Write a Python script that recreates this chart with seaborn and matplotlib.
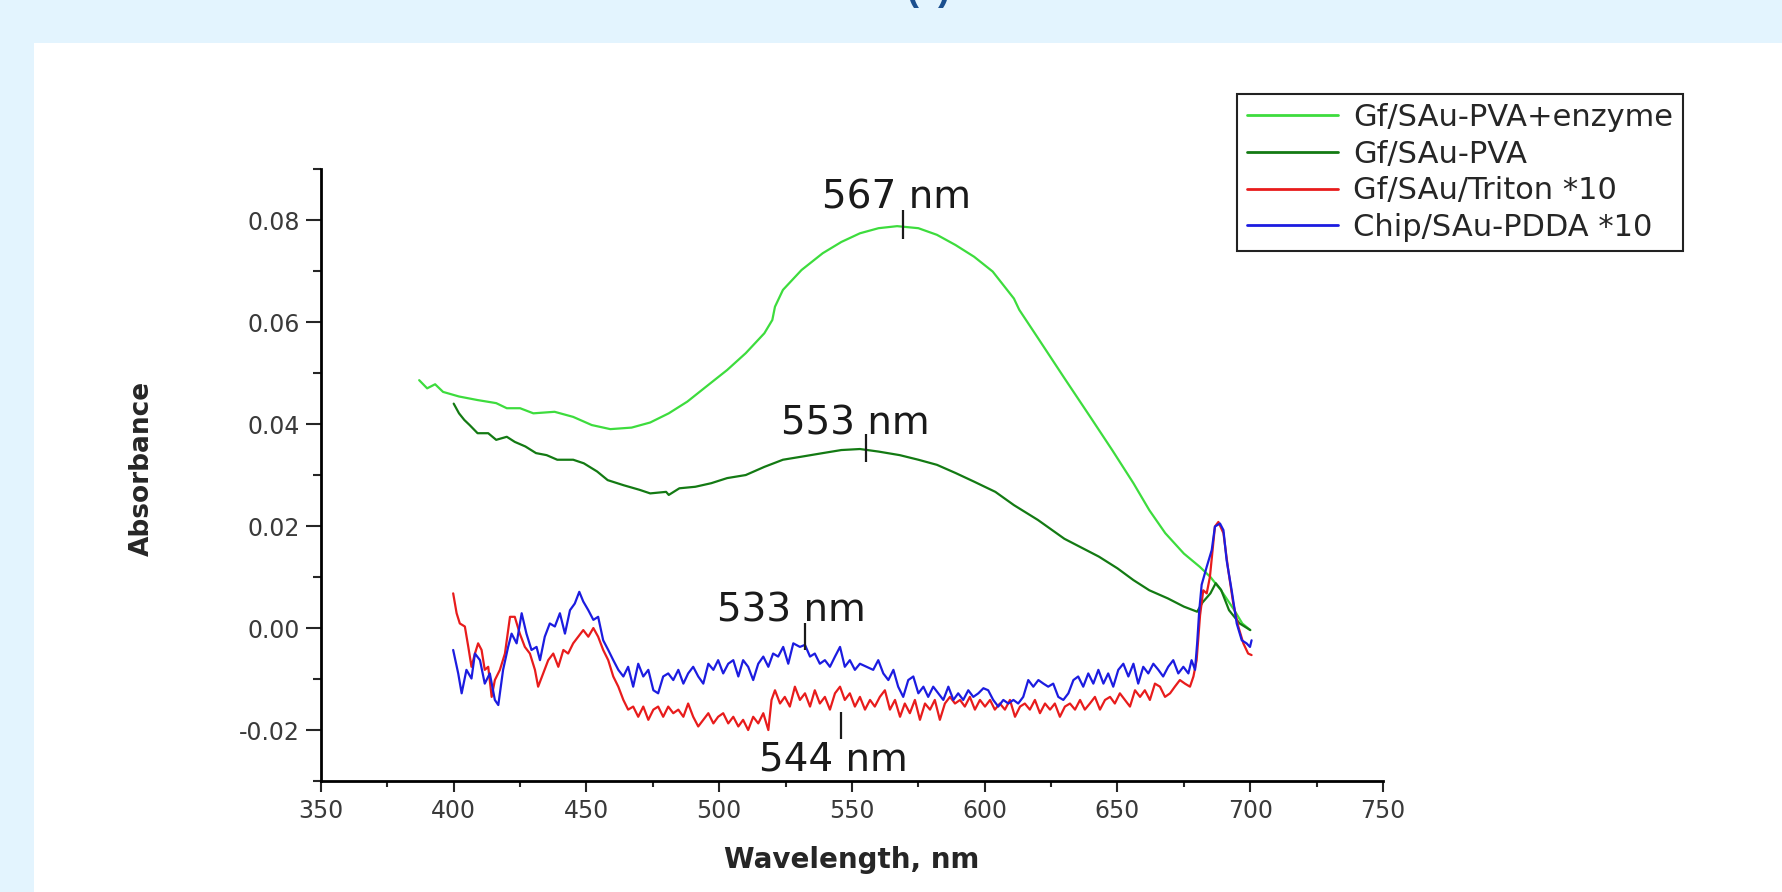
import matplotlib
matplotlib.use("Agg")
import matplotlib.pyplot as plt
import seaborn as sns
import pandas as pd
from matplotlib.ticker import MultipleLocator, FormatStrFormatter
from matplotlib.patches import Rectangle

# UV-vis spectra (wavelength in nm, absorbance)
enzyme_wl = [387, 390, 393, 396, 402, 409, 416, 420, 425, 430,
             438, 445, 452, 459, 467, 474, 481, 488, 495, 503,
             510, 517, 520, 521, 524, 531, 539, 546, 553, 560,
             567, 575, 582, 589, 596, 603, 611, 613, 620, 630,
             640, 648, 656, 662, 668, 675, 681, 685, 689, 694,
             697, 700]
enzyme_abs = [0.0486, 0.0470, 0.0478, 0.0463, 0.0454, 0.0447, 0.0441, 0.0431, 0.0431, 0.0421,
              0.0424, 0.0414, 0.0398, 0.0390, 0.0393, 0.0403, 0.0421, 0.0444, 0.0473, 0.0506,
              0.0539, 0.0578, 0.0604, 0.0630, 0.0663, 0.0702, 0.0735, 0.0757, 0.0774, 0.0784,
              0.0788, 0.0784, 0.0771, 0.0751, 0.0728, 0.0699, 0.0646, 0.0624, 0.0569, 0.0490,
              0.0412, 0.0349, 0.0284, 0.0231, 0.0186, 0.0146, 0.0120, 0.0100, 0.0074, 0.0035,
              0.0009, -0.0004]

pva_wl = [400, 402, 404, 406, 409, 413, 416, 420, 423, 427,
          431, 435, 439, 445, 449, 454, 458, 464, 470, 474,
          480, 481, 485, 491, 497, 503, 510, 517, 524, 531,
          539, 546, 553, 560, 568, 575, 582, 589, 596, 604,
          611, 620, 630, 643, 650, 656, 662, 669, 675, 680,
          682, 685, 687, 689, 692, 696, 700]
pva_abs = [0.0440, 0.0421, 0.0408, 0.0398, 0.0382, 0.0382, 0.0369, 0.0375, 0.0365, 0.0356,
           0.0343, 0.0339, 0.0330, 0.0330, 0.0323, 0.0307, 0.0290, 0.0280, 0.0271, 0.0264,
           0.0267, 0.0261, 0.0274, 0.0277, 0.0284, 0.0294, 0.0300, 0.0316, 0.0330, 0.0336,
           0.0343, 0.0349, 0.0351, 0.0346, 0.0339, 0.0330, 0.0320, 0.0304, 0.0287, 0.0267,
           0.0241, 0.0212, 0.0175, 0.0140, 0.0117, 0.0094, 0.0074, 0.0058, 0.0042, 0.0032,
           0.0050, 0.0068, 0.0088, 0.0075, 0.0035, 0.0009, -0.0004]

triton_wl = [399.8, 401.1, 402.3, 404.2, 405.5, 406.7, 408.0, 409.2, 410.5, 411.7,
             413.0, 414.3, 415.5, 417.4, 419.3, 421.2, 423.0, 424.9, 426.8, 428.7,
             430.6, 431.8, 433.7, 435.6, 437.5, 439.4, 441.3, 443.1, 445.0, 446.9,
             448.8, 450.7, 452.6, 454.4, 456.3, 458.2, 460.1, 462.0, 463.9, 465.7,
             467.6, 469.5, 471.4, 473.3, 475.2, 477.0, 478.9, 480.8, 482.7, 484.6,
             486.5, 488.3, 490.2, 492.1, 494.0, 495.9, 497.8, 499.6, 501.5, 503.4,
             505.3, 507.2, 509.0, 510.9, 512.8, 514.7, 516.6, 518.5, 519.7, 521.0,
             522.9, 524.7, 526.6, 528.5, 530.4, 532.3, 534.2, 536.0, 537.9, 539.8,
             541.7, 543.6, 545.5, 547.3, 549.2, 551.1, 553.0, 554.9, 556.8, 558.6,
             560.5, 562.4, 564.3, 566.2, 568.1, 569.9, 571.8, 573.7, 575.6, 577.5,
             579.4, 581.2, 583.1, 585.0, 586.9, 588.8, 590.7, 592.5, 594.4, 596.3,
             598.2, 600.1, 602.0, 603.8, 605.7, 607.6, 609.5, 611.4, 613.3, 615.1,
             617.0, 618.9, 620.8, 622.7, 624.6, 626.4, 628.3, 630.2, 632.1, 634.0,
             635.9, 637.7, 639.6, 641.5, 643.4, 645.3, 647.2, 649.0, 650.9, 652.8,
             654.7, 656.6, 658.5, 660.3, 662.2, 664.1, 666.0, 667.9, 669.8, 671.6,
             673.5, 675.4, 677.3, 678.6, 679.8, 681.1, 682.3, 683.6, 684.8, 686.7,
             688.0, 689.9, 691.7, 693.6, 695.5, 697.4, 699.2, 700.5]
triton_abs = [0.0068, 0.0029, 0.0009, 0.0003, -0.0037, -0.0076, -0.0050, -0.0030, -0.0043, -0.0082,
              -0.0076, -0.0135, -0.0102, -0.0082, -0.0050, 0.0022, 0.0022, -0.0011, -0.0037, -0.0050,
              -0.0082, -0.0115, -0.0089, -0.0063, -0.0050, -0.0076, -0.0043, -0.0050, -0.0030, -0.0017,
              -0.0004, -0.0017, 0.0000, -0.0017, -0.0043, -0.0063, -0.0095, -0.0115, -0.0141, -0.0160,
              -0.0154, -0.0174, -0.0154, -0.0180, -0.0160, -0.0154, -0.0174, -0.0154, -0.0167, -0.0160,
              -0.0174, -0.0148, -0.0174, -0.0193, -0.0180, -0.0167, -0.0187, -0.0174, -0.0167, -0.0187,
              -0.0174, -0.0193, -0.0180, -0.0200, -0.0174, -0.0187, -0.0167, -0.0200, -0.0141, -0.0122,
              -0.0148, -0.0135, -0.0154, -0.0115, -0.0141, -0.0128, -0.0154, -0.0122, -0.0148, -0.0135,
              -0.0160, -0.0128, -0.0115, -0.0141, -0.0128, -0.0154, -0.0135, -0.0160, -0.0141, -0.0154,
              -0.0135, -0.0122, -0.0160, -0.0141, -0.0174, -0.0148, -0.0167, -0.0141, -0.0180, -0.0148,
              -0.0160, -0.0141, -0.0180, -0.0148, -0.0135, -0.0148, -0.0141, -0.0154, -0.0135, -0.0160,
              -0.0141, -0.0154, -0.0141, -0.0160, -0.0148, -0.0160, -0.0141, -0.0174, -0.0154, -0.0148,
              -0.0160, -0.0141, -0.0167, -0.0148, -0.0160, -0.0148, -0.0174, -0.0154, -0.0148, -0.0160,
              -0.0141, -0.0160, -0.0148, -0.0135, -0.0160, -0.0141, -0.0135, -0.0148, -0.0128, -0.0141,
              -0.0154, -0.0122, -0.0135, -0.0122, -0.0141, -0.0109, -0.0115, -0.0135, -0.0128, -0.0115,
              -0.0102, -0.0109, -0.0115, -0.0095, -0.0063, 0.0025, 0.0074, 0.0068, 0.0100, 0.0199,
              0.0208, 0.0186, 0.0114, 0.0048, 0.0003, -0.0030, -0.0050, -0.0053]

pdda_wl = [399.8, 401.7, 403.0, 404.8, 406.7, 408.0, 409.9, 411.7, 413.6, 415.5,
           416.8, 418.6, 420.5, 421.8, 423.7, 425.6, 427.4, 429.3, 431.2, 432.5,
           434.3, 436.2, 438.1, 440.0, 441.9, 443.8, 445.6, 447.3, 448.8, 450.7,
           452.6, 454.4, 456.3, 458.2, 460.1, 462.0, 463.9, 465.7, 467.6, 469.5,
           471.4, 473.3, 475.2, 477.0, 478.9, 480.8, 482.7, 484.6, 486.5, 488.3,
           490.2, 492.1, 494.0, 495.9, 497.8, 499.6, 501.5, 503.4, 505.3, 507.2,
           509.0, 510.9, 512.8, 514.7, 516.6, 518.5, 520.3, 522.2, 524.1, 526.0,
           527.9, 530.4, 532.3, 534.2, 536.0, 537.9, 539.8, 541.7, 543.6, 545.5,
           547.3, 549.2, 551.1, 553.0, 555.5, 558.0, 559.9, 561.8, 563.7, 565.6,
           567.4, 569.3, 571.2, 573.1, 575.0, 576.9, 578.7, 580.6, 582.5, 584.4,
           586.3, 588.2, 590.0, 591.9, 593.8, 595.7, 597.6, 599.5, 601.3, 603.2,
           605.1, 607.0, 608.9, 610.8, 612.6, 614.5, 616.4, 618.3, 620.2, 622.1,
           623.9, 625.8, 627.7, 629.6, 631.5, 633.4, 635.2, 637.1, 639.0, 640.9,
           642.8, 644.7, 646.5, 648.4, 650.3, 652.2, 654.1, 656.0, 657.8, 659.7,
           661.6, 663.5, 665.4, 667.2, 669.1, 671.0, 672.9, 674.8, 676.7, 677.9,
           679.2, 680.0, 680.8, 681.7, 683.6, 685.5, 686.7, 688.6, 689.9, 691.1,
           693.0, 694.9, 696.8, 698.6, 699.9, 700.5]
pdda_abs = [-0.0043, -0.0089, -0.0128, -0.0082, -0.0099, -0.0050, -0.0063, -0.0109, -0.0089, -0.0141,
            -0.0151, -0.0082, -0.0037, -0.0011, -0.0030, 0.0029, -0.0011, -0.0043, -0.0037, -0.0063,
            -0.0017, 0.0009, 0.0003, 0.0029, -0.0011, 0.0035, 0.0048, 0.0071, 0.0052, 0.0035,
            0.0016, 0.0022, -0.0024, -0.0043, -0.0063, -0.0082, -0.0095, -0.0076, -0.0115, -0.0070,
            -0.0095, -0.0082, -0.0122, -0.0128, -0.0095, -0.0089, -0.0102, -0.0082, -0.0109, -0.0089,
            -0.0076, -0.0095, -0.0109, -0.0070, -0.0082, -0.0063, -0.0089, -0.0070, -0.0063, -0.0095,
            -0.0063, -0.0076, -0.0102, -0.0070, -0.0056, -0.0076, -0.0050, -0.0056, -0.0037, -0.0070,
            -0.0030, -0.0037, -0.0033, -0.0056, -0.0050, -0.0070, -0.0063, -0.0076, -0.0056, -0.0037,
            -0.0076, -0.0063, -0.0082, -0.0070, -0.0076, -0.0082, -0.0063, -0.0089, -0.0102, -0.0082,
            -0.0115, -0.0135, -0.0102, -0.0095, -0.0128, -0.0115, -0.0135, -0.0115, -0.0128, -0.0141,
            -0.0115, -0.0141, -0.0128, -0.0141, -0.0122, -0.0135, -0.0128, -0.0118, -0.0122, -0.0141,
            -0.0154, -0.0141, -0.0148, -0.0141, -0.0148, -0.0135, -0.0102, -0.0115, -0.0102, -0.0109,
            -0.0115, -0.0109, -0.0135, -0.0141, -0.0128, -0.0102, -0.0095, -0.0115, -0.0089, -0.0109,
            -0.0082, -0.0109, -0.0089, -0.0115, -0.0082, -0.0070, -0.0095, -0.0070, -0.0109, -0.0076,
            -0.0089, -0.0070, -0.0082, -0.0095, -0.0076, -0.0063, -0.0089, -0.0076, -0.0089, -0.0063,
            -0.0082, -0.0030, 0.0035, 0.0085, 0.0120, 0.0153, 0.0199, 0.0205, 0.0192, 0.0133,
            0.0074, 0.0009, -0.0024, -0.0030, -0.0037, -0.0024]

series_names = ["Gf/SAu-PVA+enzyme", "Gf/SAu-PVA", "Gf/SAu/Triton *10", "Chip/SAu-PDDA *10"]
series_colors = ["#3ddc3d", "#137a13", "#e81c1c", "#1c1ce0"]

# peak markers written on the plot
peak_text = ["567 nm", "553 nm", "533 nm", "544 nm"]
peak_text_x = [566.9, 551.4, 527.3, 543.1]
peak_text_y = [0.0822, 0.0380, 0.0012, -0.0279]
peak_mark_x = [569.4, 555.3, 532.3, 546.0]
peak_mark_lo = [0.0763, 0.0325, -0.0043, -0.0218]
peak_mark_hi = [0.0820, 0.0380, 0.0009, -0.0164]

frames = []
for name, wl, ab in zip(series_names,
                        [enzyme_wl, pva_wl, triton_wl, pdda_wl],
                        [enzyme_abs, pva_abs, triton_abs, pdda_abs]):
    frames.append(pd.DataFrame({"wavelength": wl, "absorbance": ab, "sample": name}))
spectra = pd.concat(frames, ignore_index=True)

sns.set_style("ticks")
plt.rcParams["font.family"] = ["DejaVu Sans"]
plt.rcParams["axes.unicode_minus"] = False

fig = plt.figure(figsize=(17.82, 8.92), dpi=100)
fig.patch.set_facecolor("#e3f4fe")
fig.add_artist(Rectangle((34 / 1782, 0), 1 - 34 / 1782, 1 - 43 / 892,
                         transform=fig.transFigure, facecolor="white",
                         edgecolor="none", zorder=-1))
fig.text(0.521, 1.0, "(a)", fontsize=26, fontweight="bold", color="#1b4f8f",
         family="Liberation Sans", ha="center", va="baseline")

ax = fig.add_axes([0.1801, 0.1244, 0.5960, 0.6861])
ax.set_facecolor("white")

sns.lineplot(data=spectra, x="wavelength", y="absorbance", hue="sample",
             hue_order=series_names, palette=dict(zip(series_names, series_colors)),
             estimator=None, sort=False, linewidth=1.6, ax=ax)

for t, tx, ty in zip(peak_text, peak_text_x, peak_text_y):
    ax.text(tx, ty, t, fontsize=28, color="#1a1a1a", ha="center", va="baseline")
ax.vlines(peak_mark_x, peak_mark_lo, peak_mark_hi, color="#1a1a1a", linewidth=1.6)

ax.set_xlim(350, 750)
ax.set_ylim(-0.03, 0.09)
ax.xaxis.set_major_locator(MultipleLocator(50))
ax.xaxis.set_minor_locator(MultipleLocator(25))
ax.yaxis.set_major_locator(MultipleLocator(0.02))
ax.yaxis.set_minor_locator(MultipleLocator(0.01))
ax.yaxis.set_major_formatter(FormatStrFormatter("%.2f"))

for side in ["top", "right"]:
    ax.spines[side].set_visible(False)
for side in ["left", "bottom"]:
    ax.spines[side].set_linewidth(2)
    ax.spines[side].set_color("black")

ax.tick_params(axis="x", which="major", direction="out", length=8, width=1.5,
               labelsize=17, labelcolor="#3a3a3a", pad=5)
ax.tick_params(axis="x", which="minor", direction="out", length=4.5, width=1.5)
ax.tick_params(axis="y", which="major", direction="out", length=11, width=1.5,
               labelsize=17, labelcolor="#3a3a3a", pad=4)
ax.tick_params(axis="y", which="minor", direction="out", length=6, width=1.5)

ax.set_xlabel("Wavelength, nm", fontsize=20, fontweight="bold", va="center")
ax.xaxis.set_label_coords(0.5, -0.129)
ax.set_ylabel("Absorbance", fontsize=19, fontweight="bold", va="center")
ax.yaxis.set_label_coords(-0.1686, 0.511)

handles, labels = ax.get_legend_handles_labels()
leg = ax.legend(handles, labels, loc="upper center",
                bbox_to_anchor=(1460 / 1782, 1 - 94 / 892), bbox_transform=fig.transFigure,
                fontsize=22, frameon=True, fancybox=False, framealpha=1,
                edgecolor="#222222", borderpad=0.3, labelspacing=0.25,
                handlelength=3.0, handletextpad=0.5, borderaxespad=0)
leg.get_frame().set_linewidth(1.5)
for line in leg.get_lines():
    line.set_linewidth(2)

fig.savefig("out.png", dpi=100, facecolor=fig.get_facecolor())
